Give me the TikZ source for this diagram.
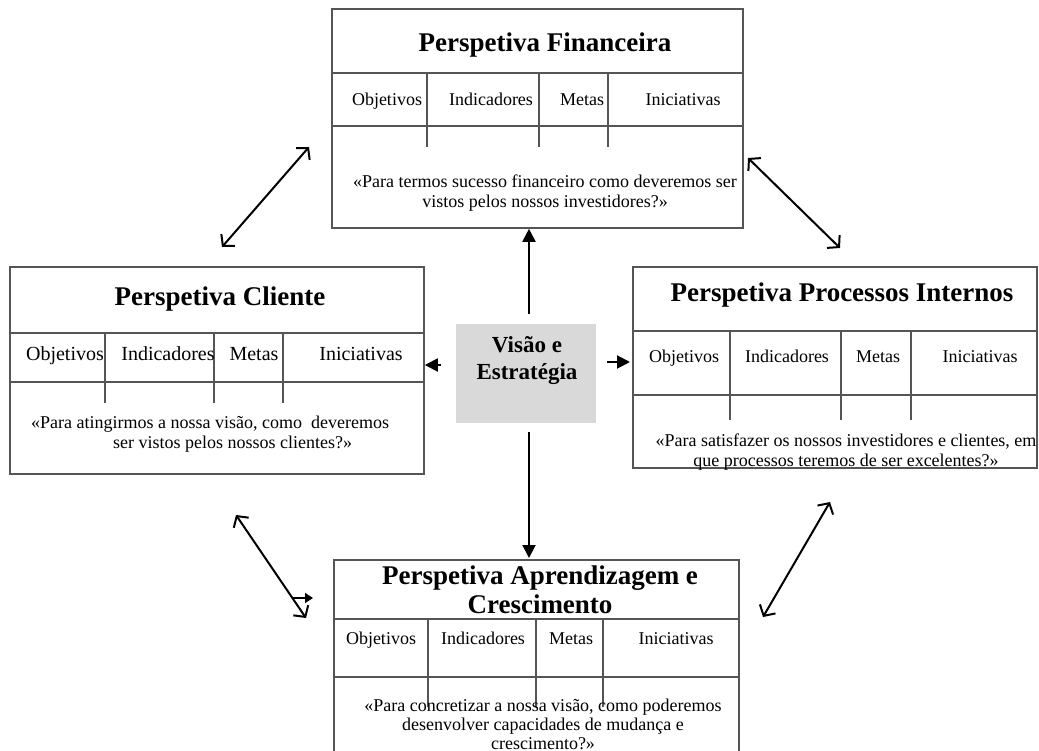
\documentclass[tikz,border=0pt]{standalone}
\usepackage{fontspec}
\setmainfont{Liberation Serif}
\usetikzlibrary{arrows.meta}
\definecolor{bord}{RGB}{85,85,85}
\definecolor{visfill}{RGB}{217,217,217}
\begin{document}
\begin{tikzpicture}[x=1pt,y=-1pt,
  persp/.style={draw=bord,line width=1.6pt,rectangle,inner sep=0pt},
  grid/.style={draw=bord,line width=1.6pt},
  ttl/.style={font=\fontsize{27}{29}\selectfont\bfseries,inner sep=0pt,align=center},
  lbl/.style={font=\fontsize{18}{20}\selectfont,inner sep=0pt,text height=0.7em,text depth=0.25em},
  lblb/.style={font=\fontsize{20}{22}\selectfont,inner sep=0pt,text height=0.7em,text depth=0.25em},
  qt/.style={font=\fontsize{18}{20}\selectfont,inner sep=0pt,align=center},
  mainarr/.style={line width=2pt,-{Triangle[length=13pt,width=13pt]}},
  dbl/.style={line width=2pt,{Straight Barb[length=8pt,width=18pt]}-{Straight Barb[length=8pt,width=18pt]}},
]
\useasboundingbox (0,0) rectangle (1039,751);

% ---------- Perspetiva Financeira ----------
\node[persp,minimum width=411,minimum height=219] (fin) at (537.5,118.5) {};
\draw[grid] (332,73) -- (743,73);
\draw[grid] (332,126) -- (743,126);
\draw[grid] (427,73) -- (427,147);
\draw[grid] (539,73) -- (539,147);
\draw[grid] (608,73) -- (608,147);
\node[ttl] (finT) at (545,45) {Perspetiva Financeira};
\node[lbl] (finO) at (387,103) {Objetivos};
\node[lbl] (finI) at (491,103) {Indicadores};
\node[lbl] (finM) at (582,103) {Metas};
\node[lbl] (finN) at (683,103) {Iniciativas};
\node[qt] (finQ) at (545,193) {«Para termos sucesso financeiro como deveremos ser\\vistos pelos nossos investidores?»};

% ---------- Perspetiva Cliente ----------
\node[persp,minimum width=414,minimum height=207] (cli) at (217,370.5) {};
\draw[grid] (10,333) -- (424,333);
\draw[grid] (10,382) -- (424,382);
\draw[grid] (105,333) -- (105,403);
\draw[grid] (214,333) -- (214,403);
\draw[grid] (283,333) -- (283,403);
\node[ttl] (cliT) at (220,299) {Perspetiva Cliente};
\node[lblb] (cliO) at (65,358) {Objetivos};
\node[lblb] (cliI) at (168,358) {Indicadores};
\node[lblb] (cliM) at (254,358) {Metas};
\node[lblb] (cliN) at (361,358) {Iniciativas};
\node[lbl,anchor=west] (cliQa) at (31,426) {«Para atingirmos a nossa visão, como\ \ deveremos};
\node[lbl,anchor=west] (cliQb) at (113,446) {ser vistos pelos nossos clientes?»};

% ---------- Perspetiva Processos Internos ----------
\node[persp,minimum width=404,minimum height=201] (pro) at (835,367.5) {};
\draw[grid] (633,331) -- (1037,331);
\draw[grid] (633,395) -- (1037,395);
\draw[grid] (730,331) -- (730,420);
\draw[grid] (841,331) -- (841,420);
\draw[grid] (911,331) -- (911,420);
\node[ttl] (proT) at (842,295) {Perspetiva Processos Internos};
\node[lbl] (proO) at (684,360) {Objetivos};
\node[lbl] (proI) at (787,360) {Indicadores};
\node[lbl] (proM) at (878,360) {Metas};
\node[lbl] (proN) at (980,360) {Iniciativas};
\node[qt] (proQ) at (846,452) {«Para satisfazer os nossos investidores e clientes, em\\que processos teremos de ser excelentes?»};

% ---------- Perspetiva Aprendizagem e Crescimento ----------
\node[persp,minimum width=405,minimum height=210] (apr) at (536.5,665) {};
\draw[grid] (334,619) -- (739,619);
\draw[grid] (334,677) -- (739,677);
\draw[grid] (428,619) -- (428,707);
\draw[grid] (536,619) -- (536,707);
\draw[grid] (603,619) -- (603,707);
\node[ttl] (aprT) at (540,590) {Perspetiva Aprendizagem e\\Crescimento};
\node[lbl] (aprO) at (381,642) {Objetivos};
\node[lbl] (aprI) at (483,642) {Indicadores};
\node[lbl] (aprM) at (571,642) {Metas};
\node[lbl] (aprN) at (676,642) {Iniciativas};
\node[qt,font=\fontsize{18}{19}\selectfont] (aprQ) at (543,724) {«Para concretizar a nossa visão, como poderemos\\desenvolver capacidades de mudança e\\crescimento?»};

% ---------- Visão e Estratégia ----------
\node[fill=visfill,minimum width=140,minimum height=99,inner sep=0pt] (vis) at (526,373.5) {};
\node[ttl,font=\fontsize{23}{27}\selectfont\bfseries] (visT) at (527,361) {Visão e\\Estratégia};

% ---------- main arrows ----------
\coordinate (upS) at (529,314);
\coordinate (dnS) at (529,432);
\coordinate (dnE) at (529,558);
\coordinate (lfS) at (441,365);
\coordinate (rtS) at (607,362);
\coordinate (rtE) at (630,362);
\draw[mainarr] (upS) -- (upS |- fin.south);
\draw[mainarr] (dnS) -- (dnE);
\draw[mainarr] (lfS) -- (lfS -| cli.east);
\draw[mainarr] (rtS) -- (rtE);

% ---------- diagonal double arrows ----------
\coordinate (tlA) at (222,247);
\coordinate (tlB) at (309,147);
\coordinate (trA) at (748,158);
\coordinate (trB) at (840,248);
\coordinate (blA) at (236,515);
\coordinate (blB) at (306,618);
\coordinate (brA) at (763,617);
\coordinate (brB) at (830,502);
\draw[dbl] (tlA) -- (tlB);
\draw[dbl] (trA) -- (trB);
\draw[dbl] (blA) -- (blB);
\draw[dbl] (brA) -- (brB);

% small stray arrow
\coordinate (smA) at (293,598);
\coordinate (smB) at (313,598);
\draw[line width=1.5pt,-{Triangle[length=8pt,width=10pt]}] (smA) -- (smB);
\end{tikzpicture}
\end{document}
